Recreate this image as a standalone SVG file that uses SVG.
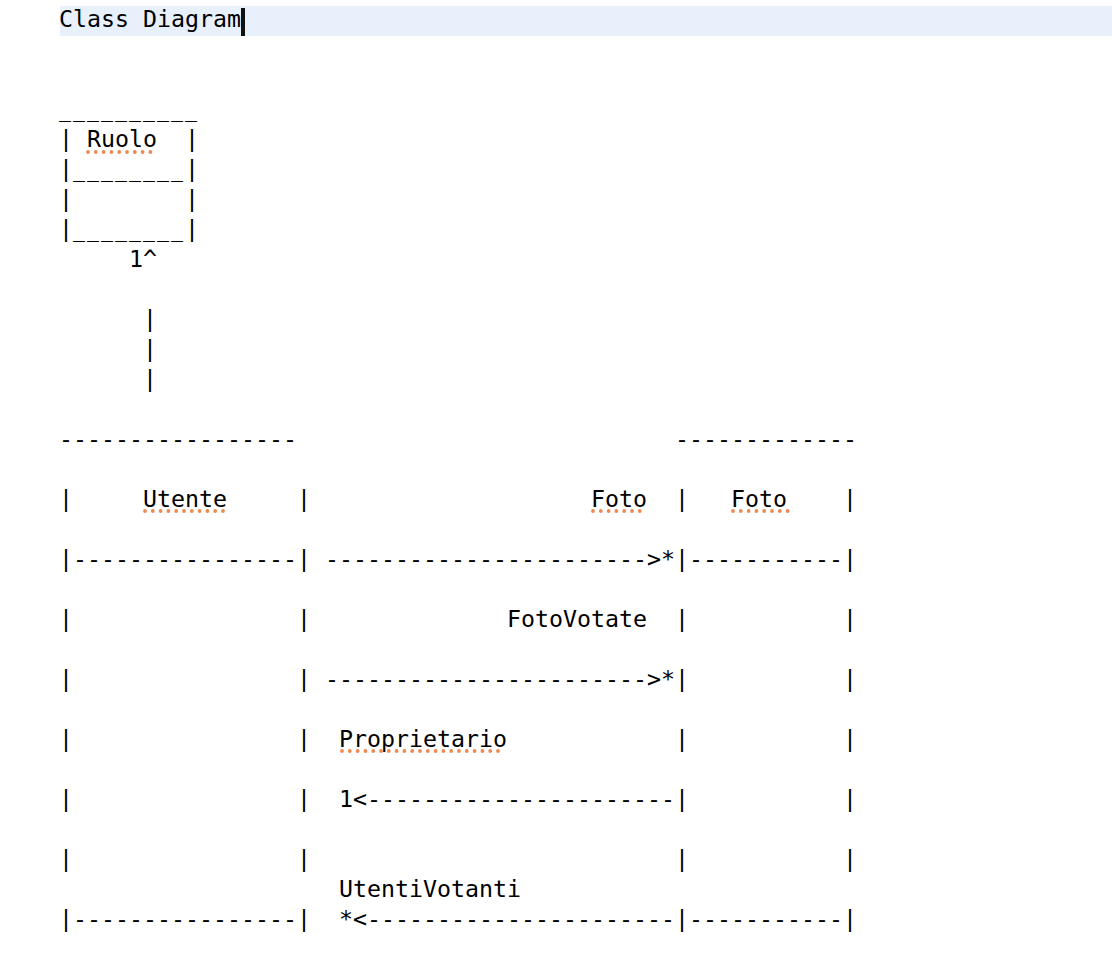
<svg xmlns="http://www.w3.org/2000/svg" width="1112" height="954" viewBox="0 0 1112 954" xml:space="preserve">
<style>
text{font-family:"DejaVu Sans Mono","Liberation Mono",monospace;font-size:23.25px;fill:#000;white-space:pre}
.u{font-size:20px;letter-spacing:1.96px}
.sp{stroke:#EC8A50;stroke-width:3.8;stroke-linecap:round;stroke-dasharray:0 7.8;fill:none}
</style>
<rect width="1112" height="954" fill="#fff"/>
<rect x="60" y="6" width="1052" height="30" fill="#E8F0FB"/>
<rect x="241" y="8" width="4" height="28" fill="#111"/>
<text x="59" y="27">Class Diagram</text>
<g id="ruolo">
<text x="59" y="117"><tspan class="u">__________</tspan></text>
<text x="59" y="147">| Ruolo  |</text>
<text x="59" y="177">|<tspan class="u">________</tspan>|</text>
<text x="59" y="207">|        |</text>
<text x="59" y="237">|<tspan class="u">________</tspan>|</text>
<path class="sp" d="M88 152H158"/>
</g>
<g id="utente">
<text x="59" y="447">-----------------</text>
<text x="59" y="507">|     Utente     |</text>
<text x="59" y="567">|----------------|</text>
<text x="59" y="627">|                |</text>
<text x="59" y="687">|                |</text>
<text x="59" y="747">|                |</text>
<text x="59" y="807">|                |</text>
<text x="59" y="867">|                |</text>
<text x="59" y="927">|----------------|</text>
<path class="sp" d="M145 511H230"/>
</g>
<g id="foto">
<text x="675" y="447">-------------</text>
<text x="675" y="507">|   Foto    |</text>
<text x="675" y="567">|-----------|</text>
<text x="675" y="627">|           |</text>
<text x="675" y="687">|           |</text>
<text x="675" y="747">|           |</text>
<text x="675" y="807">|           |</text>
<text x="675" y="867">|           |</text>
<text x="675" y="927">|-----------|</text>
<path class="sp" d="M733 511H788"/>
</g>
<g id="connectors">
<text x="129" y="267">1^</text>
<text x="143" y="327">|</text>
<text x="143" y="357">|</text>
<text x="143" y="387">|</text>
<text x="591" y="507">Foto</text>
<path class="sp" d="M593 511H645"/>
<text x="325" y="567">-----------------------&gt;*</text>
<text x="507" y="627">FotoVotate</text>
<text x="325" y="687">-----------------------&gt;*</text>
<text x="339" y="747">Proprietario</text>
<path class="sp" d="M342 751H505"/>
<text x="339" y="807">1&lt;----------------------</text>
<text x="339" y="897">UtentiVotanti</text>
<text x="339" y="927">*&lt;----------------------</text>
</g>
</svg>
